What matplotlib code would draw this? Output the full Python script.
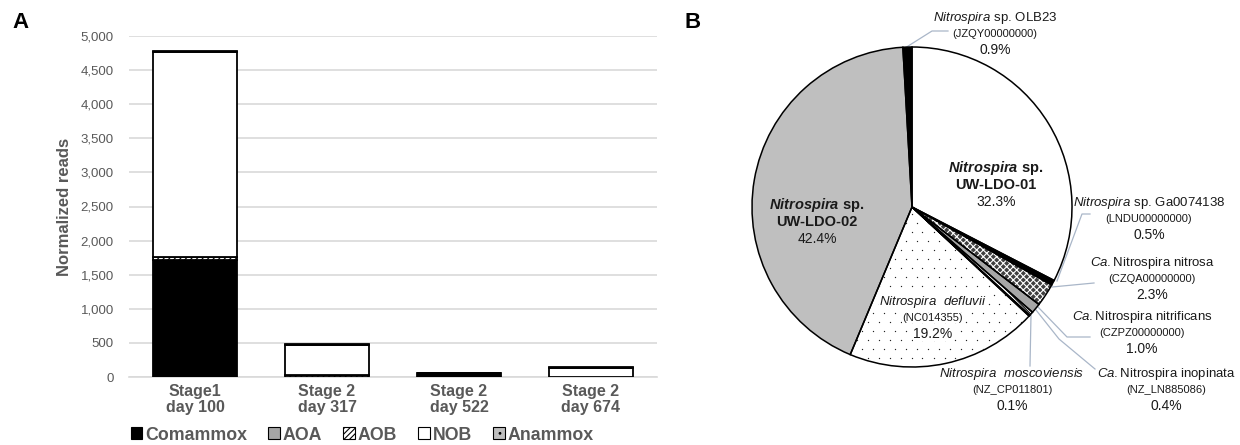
import matplotlib.pyplot as plt
from matplotlib.patches import Patch
import numpy as np

plt.rcParams['font.family'] = ['Liberation Sans', 'DejaVu Sans']
plt.rcParams['mathtext.fontset'] = 'custom'
plt.rcParams['mathtext.rm'] = 'Liberation Sans'
plt.rcParams['mathtext.it'] = 'Liberation Sans:italic'
plt.rcParams['mathtext.bf'] = 'Liberation Sans:bold'
plt.rcParams['mathtext.bfit'] = 'Liberation Sans:bold:italic'
plt.rcParams['hatch.linewidth'] = 0.8

# ---- panel A: normalized reads per functional group
stages = ['Stage1\nday 100', 'Stage 2\nday 317', 'Stage 2\nday 522', 'Stage 2\nday 674']
comammox = [1710, 0, 60, 5]
aoa = [0, 0, 0, 0]
aob = [50, 35, 0, 0]
nob = [3000, 435, 0, 128]
anammox = [20, 20, 5, 20]

# ---- panel B: Nitrospira genome share
species = ['UW-LDO-01', 'Ga0074138', 'nitrosa', 'nitrificans', 'inopinata',
           'moscoviensis', 'defluvii', 'UW-LDO-02', 'OLB23']
shares = [32.3, 0.5, 2.3, 1.0, 0.4, 0.1, 19.2, 42.4, 0.9]
names = [None,
         r'$\mathit{Nitrospira}$ sp. Ga0074138',
         r'$\mathit{Ca.}$Nitrospira nitrosa',
         r'$\mathit{Ca.}$Nitrospira nitrificans',
         r'$\mathit{Ca.}$Nitrospira inopinata',
         r'$\mathit{Nitrospira\ \ moscoviensis}$',
         r'$\mathit{Nitrospira\ \ defluvii}$',
         None,
         r'$\mathit{Nitrospira}$ sp. OLB23']
accessions = [None, '(LNDU00000000)', '(CZQA00000000)', '(CZPZ00000000)', '(NZ_LN885086)',
              '(NZ_CP011801)', '(NC014355)', None, '(JZQY00000000)']

W, H = 1240, 445
fig = plt.figure(figsize=(W / 100, H / 100), dpi=100)

grey_txt = '#595959'

# ================= panel A =================
ax = fig.add_axes([129 / W, 1 - 377 / H, 528 / W, 341 / H])
x = np.arange(len(stages))
bw = 0.63
groups = [
    ('Comammox', comammox, dict(color='black')),
    ('AOA', aoa, dict(color='#a6a6a6')),
    ('AOB', aob, dict(color='white', hatch='//////')),
    ('NOB', nob, dict(color='white')),
    ('Anammox', anammox, dict(color='#bfbfbf', hatch='..')),
]
bottom = np.zeros(len(stages))
handles = []
for name, vals, st in groups:
    vals = np.array(vals, dtype=float)
    ax.bar(x, vals, bw, bottom=bottom, facecolor=st['color'], edgecolor='black',
           linewidth=1.3, hatch=st.get('hatch'), zorder=3)
    bottom += vals
    handles.append(Patch(facecolor=st['color'], edgecolor='black', linewidth=0.8,
                         hatch=st.get('hatch'), label=name))

ax.set_xlim(-0.5, len(stages) - 0.5)
ax.set_ylim(0, 5000)
ax.set_yticks(np.arange(0, 5001, 500))
ax.set_yticklabels([f'{v:,}' for v in range(0, 5001, 500)])
ax.yaxis.grid(True, color='#d9d9d9', linewidth=1.2, zorder=0)
ax.set_axisbelow(True)
for s in ['top', 'right', 'left']:
    ax.spines[s].set_visible(False)
ax.spines['bottom'].set_color('#d9d9d9')
ax.spines['bottom'].set_linewidth(1.2)
ax.tick_params(length=0, colors=grey_txt)
ax.tick_params(axis='y', labelsize=9.5, pad=11)
ax.set_xticks(x)
ax.set_xticklabels(stages, fontsize=11.5, fontweight='bold', color=grey_txt, linespacing=1.1)
ax.tick_params(axis='x', pad=5)
ax.set_ylabel('Normalized reads', fontsize=12, fontweight='bold', color=grey_txt, labelpad=6)

leg = fig.legend(handles=handles, loc='center', bbox_to_anchor=(362 / W, 1 - 435 / H),
                 ncol=5, frameon=False, handlelength=0.65, handleheight=0.65,
                 handletextpad=0.15, columnspacing=1.2, prop=dict(size=12.8, weight='bold'))
for t in leg.get_texts():
    t.set_color(grey_txt)

fig.text(12 / W, 1 - 22 / H, 'A', fontsize=16, fontweight='bold', va='center')
fig.text(684 / W, 1 - 22 / H, 'B', fontsize=16, fontweight='bold', va='center')

# ================= panel B =================
cx, cy, r = 912, 207, 160
pax = fig.add_axes([(cx - r) / W, 1 - (cy + r) / H, 2 * r / W, 2 * r / H])


def pd(px, py):
    return (px - cx) / r, (cy - py) / r


faces = ['white', 'black', '#404040', '#a6a6a6', 'white', 'black', 'white', '#bfbfbf', 'black']
hatches = [None, None, 'xxxxx', None, '\\\\\\\\', None, None, None, None]
hatch_cols = [None, None, 'white', None, 'black', None, None, None, None]

wedges, _ = pax.pie(shares, startangle=90, counterclock=False, radius=1,
                    wedgeprops=dict(linewidth=0))
for w, fc, hc, hcol in zip(wedges, faces, hatches, hatch_cols):
    w.set_facecolor(fc)
    if hc:
        w.set_hatch(hc)
        w.set_edgecolor(hcol)

# sparse dot fill for the N. defluvii wedge
gx, gy = np.meshgrid(np.arange(-1, 1, 11 / r), np.arange(-1, 1, 9 / r))
gx[1::2] += 5.5 / r
dots = pax.scatter(gx.ravel(), gy.ravel(), s=0.9, color='#222222', linewidths=0, zorder=2)
dots.set_clip_path(wedges[species.index('defluvii')])

outl, _ = pax.pie(shares, startangle=90, counterclock=False, radius=1,
                  wedgeprops=dict(facecolor='none', edgecolor='black', linewidth=1.1))
pax.set_aspect('auto')
pax.set_xlim(-1, 1)
pax.set_ylim(-1, 1)
pax.axis('off')

pct = [f'{v:.1f}%' for v in shares]

# inside labels (bold)
inside = {0: (996, 168), 7: (817, 205)}
for i, (px, py) in inside.items():
    for k, (txt, fs, fw) in enumerate([(r'$\mathbfit{Nitrospira}$ sp.', 10.5, 'bold'),
                                      (species[i], 10.5, 'bold'),
                                      (pct[i], 10, 'normal')]):
        pax.text(*pd(px, py + 17 * k), txt, ha='center', va='center', fontsize=fs,
                 fontweight=fw, color='#1a1a1a', clip_on=False, zorder=5)

# outside / small labels
label_pos = {8: (995, 18), 1: (1149, 203), 2: (1152, 263), 3: (1142, 317),
             4: (1166, 374), 5: (1012, 374), 6: (933, 302)}
box = dict(facecolor='white', edgecolor='none', pad=0.3)
for i, (px, py) in label_pos.items():
    bb = box if i == 6 else None
    pax.text(*pd(px, py), names[i], ha='center', va='center', fontsize=9.5,
             color='#1a1a1a', clip_on=False, bbox=bb, zorder=5)
    pax.text(*pd(px, py + 16), accessions[i], ha='center', va='center', fontsize=8,
             color='#1a1a1a', clip_on=False, bbox=bb, zorder=5)
    pax.text(*pd(px, py + 32), pct[i], ha='center', va='center', fontsize=10,
             color='#1a1a1a', clip_on=False, bbox=bb, zorder=5)

# leader lines
leaders = [
    [(905, 48), (932, 31), (948, 31)],
    [(1057, 281), (1082, 214), (1090, 214)],
    [(1052, 287), (1094, 283)],
    [(1038, 307), (1067, 337), (1090, 337)],
    [(1036, 310), (1059, 339), (1095, 369)],
    [(1031, 315), (1030, 366)],
]
for pts in leaders:
    xs, ys = zip(*[pd(px, py) for px, py in pts])
    pax.plot(xs, ys, color='#a9b6c8', linewidth=0.9, clip_on=False, zorder=0)

fig.savefig('out.png', dpi=100)
